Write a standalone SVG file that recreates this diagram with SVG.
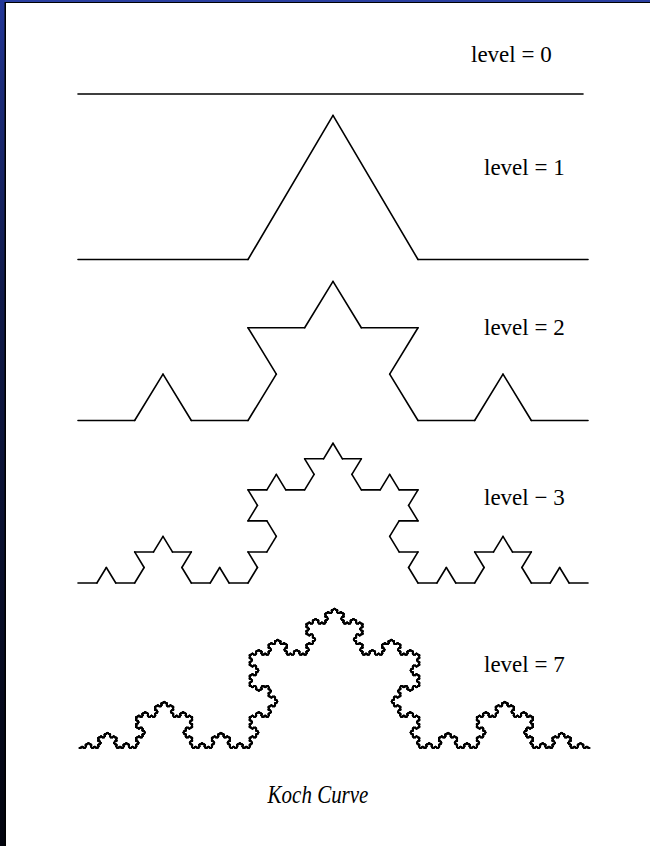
<svg xmlns="http://www.w3.org/2000/svg" xmlns:xlink="http://www.w3.org/1999/xlink" width="650" height="846" viewBox="0 0 650 846">
<style>
.seg{stroke:#000;stroke-linecap:round;vector-effect:non-scaling-stroke;fill:none}
.c{stroke:#000;stroke-width:1.6}
.c7{stroke:#000;stroke-width:1.15}
.lbl{font-family:"Liberation Serif","Times New Roman",serif;font-size:23px;fill:#000;stroke:none}
.cap{font-family:"Liberation Serif","Times New Roman",serif;font-size:21px;font-style:italic;fill:#000;stroke:none}
</style>
<defs>
<linearGradient id="side" x1="0" y1="0" x2="0" y2="1">
<stop offset="0" stop-color="#24389a"/>
<stop offset="0.1" stop-color="#1c2c7a"/>
<stop offset="0.35" stop-color="#101a4a"/>
<stop offset="1" stop-color="#02040e"/>
</linearGradient>
<line id="k0" class="seg" x1="0" y1="0" x2="1" y2="0"/>
<g id="k1"><use xlink:href="#k0" transform="scale(0.333333)"/><use xlink:href="#k0" transform="translate(0.333333,0) rotate(-60) scale(0.333333)"/><use xlink:href="#k0" transform="translate(0.5,-0.288675) rotate(60) scale(0.333333)"/><use xlink:href="#k0" transform="translate(0.666667,0) scale(0.333333)"/></g>
<g id="k2"><use xlink:href="#k1" transform="scale(0.333333)"/><use xlink:href="#k1" transform="translate(0.333333,0) rotate(-60) scale(0.333333)"/><use xlink:href="#k1" transform="translate(0.5,-0.288675) rotate(60) scale(0.333333)"/><use xlink:href="#k1" transform="translate(0.666667,0) scale(0.333333)"/></g>
<g id="k3"><use xlink:href="#k2" transform="scale(0.333333)"/><use xlink:href="#k2" transform="translate(0.333333,0) rotate(-60) scale(0.333333)"/><use xlink:href="#k2" transform="translate(0.5,-0.288675) rotate(60) scale(0.333333)"/><use xlink:href="#k2" transform="translate(0.666667,0) scale(0.333333)"/></g>
<g id="k4"><use xlink:href="#k3" transform="scale(0.333333)"/><use xlink:href="#k3" transform="translate(0.333333,0) rotate(-60) scale(0.333333)"/><use xlink:href="#k3" transform="translate(0.5,-0.288675) rotate(60) scale(0.333333)"/><use xlink:href="#k3" transform="translate(0.666667,0) scale(0.333333)"/></g>
<g id="k5"><use xlink:href="#k4" transform="scale(0.333333)"/><use xlink:href="#k4" transform="translate(0.333333,0) rotate(-60) scale(0.333333)"/><use xlink:href="#k4" transform="translate(0.5,-0.288675) rotate(60) scale(0.333333)"/><use xlink:href="#k4" transform="translate(0.666667,0) scale(0.333333)"/></g>
<g id="k6"><use xlink:href="#k5" transform="scale(0.333333)"/><use xlink:href="#k5" transform="translate(0.333333,0) rotate(-60) scale(0.333333)"/><use xlink:href="#k5" transform="translate(0.5,-0.288675) rotate(60) scale(0.333333)"/><use xlink:href="#k5" transform="translate(0.666667,0) scale(0.333333)"/></g>
<g id="k7"><use xlink:href="#k6" transform="scale(0.333333)"/><use xlink:href="#k6" transform="translate(0.333333,0) rotate(-60) scale(0.333333)"/><use xlink:href="#k6" transform="translate(0.5,-0.288675) rotate(60) scale(0.333333)"/><use xlink:href="#k6" transform="translate(0.666667,0) scale(0.333333)"/></g>
</defs>
<g id="frame">
<rect x="0" y="0" width="650" height="846" fill="#0b1440"/>
<rect x="0" y="0" width="650" height="2" fill="#2a3fa0"/>
<rect x="0" y="0" width="5" height="846" fill="url(#side)"/>
<rect x="4.5" y="2" width="645.5" height="844" fill="#000"/>
<rect x="6" y="3" width="644" height="843" fill="#fff"/>
</g>
<g id="level0">
<line class="seg c" x1="78" y1="94" x2="583" y2="94"/>
<text class="lbl" x="471" y="62">level = 0</text>
</g>
<g id="level1" class="c">
<use xlink:href="#k1" transform="translate(78,259.5) scale(510,499)"/>
<text class="lbl" x="484" y="175">level = 1</text>
</g>
<g id="level2" class="c">
<use xlink:href="#k2" transform="translate(78,420.5) scale(510,482)"/>
<text class="lbl" x="484" y="335">level = 2</text>
</g>
<g id="level3" class="c">
<use xlink:href="#k3" transform="translate(78,583) scale(510,484)"/>
<text class="lbl" x="484" y="505">level − 3</text>
</g>
<g id="level7" class="c7">
<use xlink:href="#k7" transform="translate(79,748) scale(511,484)"/>
<text class="lbl" x="484" y="672">level = 7</text>
</g>
<g id="caption">
<text class="cap" transform="translate(318,803) scale(1,1.15)" text-anchor="middle">Koch Curve</text>
</g>
</svg>
